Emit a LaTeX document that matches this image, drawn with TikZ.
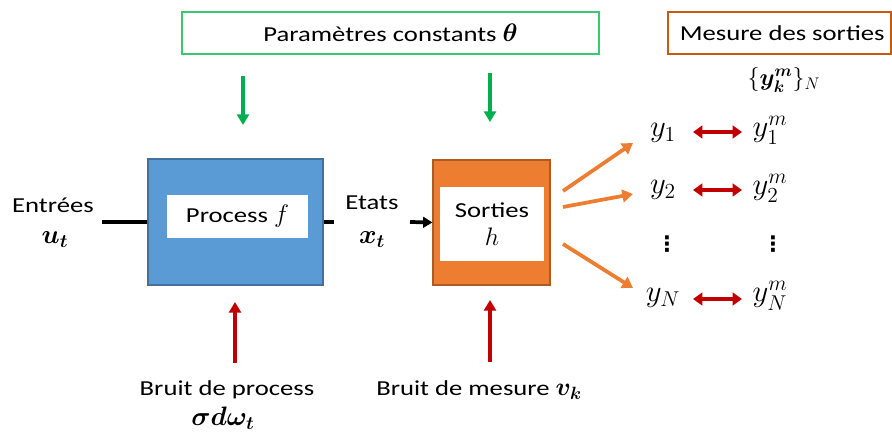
\RequirePackage{fix-cm}
\documentclass[tikz,border=0pt]{standalone}
\usepackage{amsmath,bm}
\usepackage{fontspec}
\setmainfont{Carlito}[FakeStretch=1.25]
\newfontfamily\symfont{DejaVu Sans}
\usetikzlibrary{positioning,arrows.meta}

\definecolor{procblue}{HTML}{5B9BD5}
\definecolor{procedge}{HTML}{41719C}
\definecolor{sortorange}{HTML}{ED7D31}
\definecolor{sortedge}{HTML}{AE5A21}
\definecolor{paramgreen}{HTML}{00B050}
\definecolor{paramedge}{HTML}{3CC86E}
\definecolor{mesedge}{HTML}{C55A11}
\definecolor{noisered}{HTML}{C00000}

\newcommand{\mathtxt}[1]{{\fontsize{19}{19}\selectfont$#1$}}

\begin{document}
\begin{tikzpicture}[
  x=0.75pt, y=-0.75pt,
  font=\fontsize{16}{19}\selectfont,
  block/.style={draw, line width=0.8pt, inner sep=0pt},
  inner/.style={fill=white, inner sep=0pt, align=center},
  topbox/.style={draw, line width=0.9pt, inner sep=0pt},
  lbl/.style={inner sep=2pt},
  mlbl/.style={inner sep=1pt, font=\fontsize{20}{22}\selectfont},
  ylbl/.style={inner sep=0pt, font=\fontsize{23}{25}\selectfont},
  dots/.style={inner sep=0pt, font=\symfont\bfseries\fontsize{16}{16}\selectfont},
  wire/.style={line width=2.8pt, black},
  feed/.style={-{Triangle[length=8pt,width=9pt]}, line width=2.4pt},
  fan/.style={-{Triangle[length=8pt,width=9.5pt]}, line width=2.8pt, sortorange},
  match/.style={{Triangle[length=7pt,width=9.5pt]}-{Triangle[length=7pt,width=9.5pt]},
                line width=2.8pt, noisered},
]
  \useasboundingbox (0,0) rectangle (892,435);

  % top boxes
  \node[topbox, draw=paramedge, minimum width=312.75pt, minimum height=31.5pt]
    (param) at (390.5,33) {Paramètres constants \mathtxt{\bm{\theta}}};
  \node[topbox, draw=mesedge, minimum width=167.25pt, minimum height=31.5pt]
    (mesure) at (779.5,33) {\hspace*{4pt}Mesure des sorties};
  \node[mlbl, font=\fontsize{18}{20}\selectfont] (ykm) at (784,80) {$\{\bm{y_k^m}\}_N$};

  % process and output blocks
  \node[block, fill=procblue, draw=procedge, minimum width=131.25pt,
        minimum height=94.5pt] (proc) at (235.5,222) {};
  \node[inner, minimum width=105.75pt, minimum height=32.25pt]
    (proctxt) at (237.5,216.5) {Process \mathtxt{f}};
  \node[block, fill=sortorange, draw=sortedge, minimum width=87.75pt,
        minimum height=93.75pt] (sort) at (491.5,222.5) {};
  \node[inner, minimum width=78pt, minimum height=55.5pt]
    (sorttxt) at (492,224) {Sorties\\[2pt]\mathtxt{h}};

  % side labels
  \node[lbl] (entrees) at (53,205) {Entrées};
  \node[mlbl] (ut) at (55,240) {$\bm{u_t}$};
  \node[lbl] (etats) at (372,203) {Etats};
  \node[mlbl] (xt) at (372,240) {$\bm{x_t}$};
  \node[lbl] (bproc) at (227,390) {Bruit de process};
  \node[mlbl] (sdw) at (223,418) {$\bm{\sigma d\omega_t}$};
  \node[lbl] (bmes) at (479,390) {Bruit de mesure \mathtxt{\bm{v_k}}};

  % outputs and measurements
  \node[ylbl] (y1) at (663,133) {$y_1$};
  \node[ylbl] (y2) at (663,190) {$y_2$};
  \node[dots] (yd) at (667,244) {⋮};
  \node[ylbl] (yN) at (663,298) {$y_N$};
  \node[ylbl] (y1m) at (770,130) {$y_1^m$};
  \node[ylbl] (y2m) at (770,188) {$y_2^m$};
  \node[dots] (ydm) at (773,244) {⋮};
  \node[ylbl] (yNm) at (770,296) {$y_N^m$};

  % free ends
  \coordinate (thL) at (243,76);   \coordinate (thLe) at (243,125);
  \coordinate (thR) at (490,73);   \coordinate (thRe) at (490,122);
  \coordinate (nzL) at (235,363);  \coordinate (nzLe) at (235,302);
  \coordinate (nzR) at (490,362);  \coordinate (nzRe) at (490,300);
  \coordinate (inL) at (102,222);
  \coordinate (outP) at (334,222);
  \coordinate (inS) at (410,222);
  \coordinate (s1) at (563,191);   \coordinate (e1) at (633,143);
  \coordinate (s2) at (563,207);   \coordinate (e2) at (633,194);
  \coordinate (sN) at (563,244);   \coordinate (eN) at (633,288);
  \coordinate (m1s) at (693,132);  \coordinate (m1e) at (742,132);
  \coordinate (m2s) at (693,190);  \coordinate (m2e) at (742,190);
  \coordinate (mNs) at (693,299);  \coordinate (mNe) at (742,299);

  % connectors
  \draw[feed, paramgreen] (thL) -- (thLe);
  \draw[feed, paramgreen] (thR) -- (thRe);
  \draw[feed, noisered] (nzL) -- (nzLe);
  \draw[feed, noisered] (nzR) -- (nzRe);
  \draw[wire] (inL) -- (proc.west);
  \draw[wire] (proc.east) -- (outP);
  \draw[wire, -{Triangle[length=7pt,width=8pt]}] (inS) -- (sort.west);
  \draw[fan] (s1) -- (e1);
  \draw[fan] (s2) -- (e2);
  \draw[fan] (sN) -- (eN);
  \draw[match] (m1s) -- (m1e);
  \draw[match] (m2s) -- (m2e);
  \draw[match] (mNs) -- (mNe);
\end{tikzpicture}
\end{document}
